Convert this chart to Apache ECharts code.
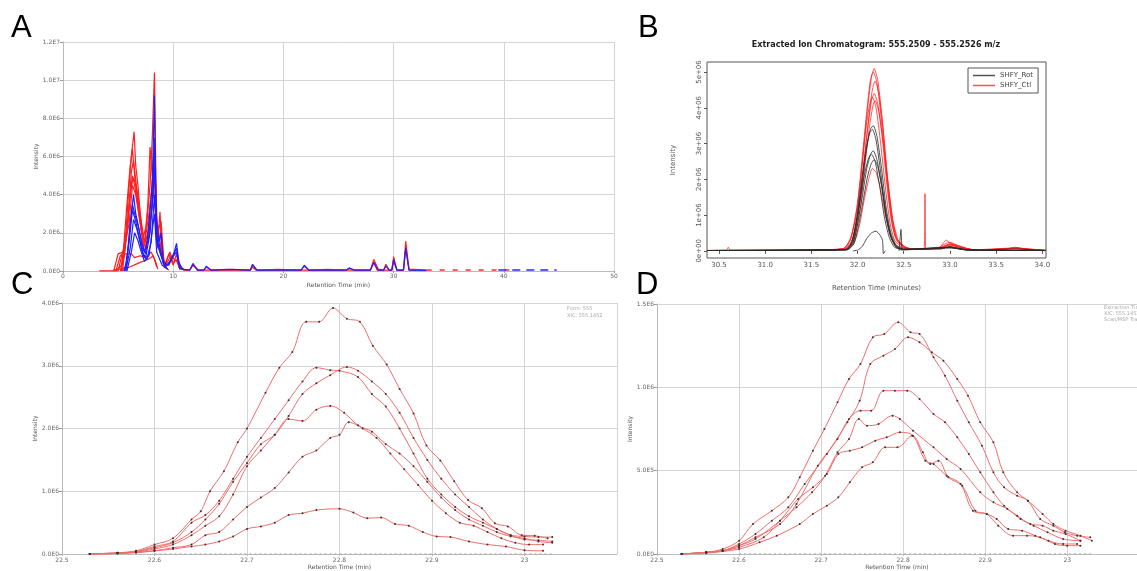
<!DOCTYPE html>
<html><head><meta charset="utf-8">
<script src="https://cdn.jsdelivr.net/npm/echarts@6/dist/echarts.min.js"></script>
<style>html,body{margin:0;padding:0;background:#fff}#c{width:1137px;height:571px}</style>
</head><body><div id="c"></div>
<script>
// ---------- Panel A (Retention time min, intensity in millions) ----------
const aXTicks = [0, 10, 20, 30, 40, 50];
const aRedTraces = [
 [[3.3,0],[4.8,0],[5.3,0.3],[5.7,2.0],[6.0,4.5],[6.2,6.0],[6.45,7.3],[6.6,5.5],[6.8,4.5],[7.0,3.0],[7.3,1.8],[7.6,2.5],[7.9,4.5],[8.1,7.0],[8.3,10.4],[8.45,4.0],[8.6,1.5],[8.8,3.1],[9.0,0.8],[9.3,0.3],[9.6,0.9],[9.8,0.6],[10.0,0.3],[10.3,0.9],[10.5,0.2],[11.0,0.05],[11.5,0.05],[11.8,0.4],[12.2,0.05],[12.8,0.05],[13.0,0.2],[13.5,0.05],[15.5,0.08],[16.5,0.05],[17.0,0.05],[17.2,0.3],[17.6,0.05],[19.5,0.08],[21.6,0.05],[21.9,0.25],[22.3,0.05],[24.0,0.08],[25.7,0.05],[26.0,0.15],[26.4,0.05],[27.9,0.05],[28.2,0.6],[28.6,0.1],[29.1,0.05],[29.3,0.35],[29.6,0.05],[29.85,0.05],[30.0,0.75],[30.3,0.05],[30.9,0.05],[31.1,1.55],[31.4,0.1],[32.0,0.08],[33.0,0.05]],
 [[3.3,0],[5.0,0],[5.5,1.2],[5.8,3.5],[6.1,5.5],[6.3,6.4],[6.5,5.0],[6.8,3.5],[7.1,2.2],[7.4,1.5],[7.7,3.5],[7.9,6.5],[8.1,5.0],[8.3,6.8],[8.5,2.5],[8.7,2.0],[8.9,1.0],[9.2,0.3],[9.7,1.0],[10.0,0.4],[10.3,0.6],[10.6,0.1],[11.5,0.05],[11.8,0.3],[12.3,0.05],[17.0,0.05],[17.2,0.2],[17.5,0.05],[27.9,0.05],[28.2,0.45],[28.5,0.05],[29.8,0.05],[30.0,0.5],[30.3,0.05],[30.9,0.05],[31.1,1.2],[31.4,0.05],[32,0.05]],
 [[4.8,0],[5.2,0.8],[5.6,1.0],[6.0,3.5],[6.3,5.0],[6.5,4.5],[6.9,3.0],[7.3,1.2],[7.7,2.0],[8.0,4.0],[8.3,6.5],[8.5,2.0],[8.9,2.6],[9.2,0.2],[9.8,0.8],[10.3,0.5],[11,0.05]],
 [[4.6,0],[5.0,0.9],[5.5,1.0],[6.0,2.5],[6.3,4.5],[6.6,4.0],[7.0,2.5],[7.4,1.0],[7.7,1.5],[8.0,3.0],[8.3,5.0],[8.5,1.5],[8.9,1.8],[9.2,0.2],[9.6,0.05]],
 [[5.2,0],[5.6,0.9],[6.2,0.9],[6.5,0.7],[7.0,0.8],[7.5,0.7],[8.0,1.0],[8.4,0.5],[8.6,0.1]],
 [[4.6,0.05],[6.0,0.2],[7.0,0.45],[7.7,0.6],[8.2,0.8],[8.5,0.2]],
 [[5.3,0],[5.9,2.5],[6.2,5.2],[6.4,5.8],[6.7,4.2],[7.0,2.8],[7.4,1.4],[7.8,3.0],[8.1,4.5],[8.3,6.0],[8.5,2.2],[8.8,2.4],[9.1,0.4],[9.5,0.1]],
 [[5.4,0],[5.8,2.0],[6.1,4.0],[6.35,4.9],[6.6,4.6],[6.9,3.6],[7.2,2.0],[7.5,1.2],[7.9,2.6],[8.2,4.2],[8.35,3.5],[8.6,1.2],[8.9,1.5],[9.2,0.2]]
];
const aBlueTraces = [
 [[5.5,0],[5.8,0.5],[6.1,2.5],[6.4,4.0],[6.6,3.0],[6.9,2.2],[7.2,1.2],[7.5,0.9],[7.8,2.5],[8.1,4.5],[8.3,9.2],[8.45,3.0],[8.7,1.5],[8.9,2.0],[9.1,0.5],[9.5,0.3],[9.8,0.6],[10.1,1.0],[10.3,1.45],[10.5,0.5],[10.8,0.1],[11.5,0.05],[11.8,0.35],[12.2,0.05],[12.8,0.05],[13.0,0.25],[13.4,0.05],[15.0,0.08],[17.0,0.05],[17.2,0.35],[17.6,0.05],[21.6,0.05],[21.9,0.3],[22.3,0.05],[25.7,0.05],[26.0,0.15],[26.4,0.05],[27.9,0.05],[28.2,0.45],[28.6,0.05],[29.1,0.05],[29.3,0.25],[29.6,0.05],[29.85,0.05],[30.0,0.6],[30.3,0.05],[30.9,0.05],[31.1,1.2],[31.4,0.05],[33.0,0.03]],
 [[5.6,0],[6.0,1.5],[6.3,3.2],[6.6,2.6],[6.9,1.8],[7.2,1.0],[7.5,0.7],[7.9,2.0],[8.15,4.0],[8.3,7.0],[8.5,2.0],[8.8,1.2],[9.1,0.4],[9.6,0.3],[10.0,0.8],[10.3,1.2],[10.6,0.2],[11,0.05]],
 [[5.7,0],[6.1,1.2],[6.4,2.7],[6.7,2.2],[7.0,1.5],[7.3,0.8],[7.6,0.6],[8.0,1.5],[8.3,4.0],[8.5,1.5],[8.9,0.8],[9.3,0.2],[10.3,1.0],[10.6,0.1]],
 [[5.8,0],[6.2,1.0],[6.5,2.0],[6.8,1.6],[7.1,1.0],[7.4,0.5],[7.8,0.8],[8.3,3.0],[8.5,1.0],[9,0.3],[9.5,0.1]],
 [[5.7,0],[6.0,1.8],[6.3,3.5],[6.5,3.0],[6.8,2.4],[7.1,1.6],[7.4,1.0],[7.8,1.8],[8.1,3.5],[8.3,5.5],[8.5,1.8],[8.8,1.0],[9.2,0.3]]
];
const aRedTail = [[33.0,0.05],[40.5,0.05]];
const aBlueTail = [[39.5,0.05],[44.8,0.05]];

// ---------- Panel B (minutes, intensity in millions) ----------
const bXTicks = [30.5, 31.0, 31.5, 32.0, 32.5, 33.0, 33.5, 34.0];
const bYTicks = [0, 1, 2, 3, 4, 5];
const bLegend = ['SHFY_Rot', 'SHFY_Ctl'];
const bCtlTraces = [
 [[30.37,0.01],[30.58,0.02],[30.6,0.1],[30.62,0.02],[31.5,0.02],[31.85,0.06],[31.93,0.35],[32.0,1.2],[32.05,2.4],[32.1,3.8],[32.15,4.85],[32.18,5.1],[32.22,4.75],[32.27,3.6],[32.32,2.1],[32.37,0.95],[32.42,0.35],[32.5,0.12],[32.6,0.05],[32.85,0.06],[32.95,0.2],[33.0,0.24],[33.1,0.13],[33.25,0.03],[33.6,0.05],[33.7,0.1],[33.8,0.05],[34.04,0.01]],
 [[30.37,0.01],[31.5,0.02],[31.85,0.07],[31.93,0.4],[32.0,1.3],[32.05,2.6],[32.1,3.9],[32.14,4.8],[32.17,5.0],[32.21,4.7],[32.26,3.6],[32.31,2.2],[32.36,1.0],[32.41,0.4],[32.5,0.13],[32.6,0.05],[32.88,0.08],[32.96,0.3],[33.0,0.22],[33.1,0.14],[33.25,0.03],[33.6,0.05],[33.72,0.09],[33.85,0.04],[34.04,0.01]],
 [[30.37,0.01],[31.5,0.02],[31.87,0.06],[31.95,0.35],[32.02,1.3],[32.07,2.5],[32.12,3.7],[32.16,4.5],[32.19,4.75],[32.23,4.4],[32.28,3.3],[32.33,1.9],[32.38,0.85],[32.43,0.3],[32.5,0.1],[32.6,0.05],[32.9,0.1],[33.0,0.2],[33.1,0.12],[33.25,0.03],[33.7,0.08],[34.04,0.01]],
 [[30.37,0.01],[31.5,0.02],[31.86,0.06],[31.94,0.3],[32.0,1.0],[32.05,2.0],[32.1,3.2],[32.15,4.2],[32.18,4.4],[32.22,4.1],[32.27,3.1],[32.32,1.8],[32.37,0.8],[32.42,0.3],[32.5,0.1],[32.6,0.04],[32.9,0.09],[33.0,0.18],[33.1,0.1],[33.3,0.02],[33.7,0.07],[34.04,0.01]],
 [[30.37,0.01],[31.84,0.05],[31.92,0.3],[31.98,1.0],[32.04,2.2],[32.09,3.4],[32.13,4.1],[32.16,4.3],[32.2,4.0],[32.25,3.0],[32.3,1.8],[32.35,0.8],[32.4,0.3],[32.48,0.1],[32.6,0.04],[32.9,0.08],[33.0,0.17],[33.1,0.1],[33.3,0.02],[33.7,0.06],[34.04,0.01]],
 [[30.37,0.01],[31.88,0.05],[31.96,0.3],[32.03,1.2],[32.08,2.4],[32.13,3.5],[32.17,4.1],[32.19,4.2],[32.23,3.9],[32.28,3.0],[32.33,1.9],[32.38,0.9],[32.44,0.3],[32.52,0.1],[32.6,0.04],[32.72,0.05],[32.73,1.6],[32.74,0.05],[32.9,0.08],[33.0,0.16],[33.1,0.09],[33.3,0.02],[33.7,0.06],[34.04,0.01]],
 [[30.37,0.01],[31.88,0.04],[31.96,0.2],[32.02,0.7],[32.07,1.4],[32.12,2.0],[32.16,2.3],[32.2,2.2],[32.25,1.7],[32.3,1.0],[32.35,0.5],[32.4,0.2],[32.5,0.06],[32.9,0.06],[33.0,0.12],[33.1,0.07],[33.3,0.02],[34.04,0.01]]
];
const bRotTraces = [
 [[30.37,0.01],[31.88,0.03],[31.95,0.25],[32.0,0.9],[32.05,1.9],[32.1,2.9],[32.14,3.4],[32.17,3.5],[32.21,3.2],[32.26,2.3],[32.31,1.2],[32.36,0.5],[32.42,0.15],[32.5,0.05],[32.9,0.05],[33.0,0.12],[33.1,0.06],[33.3,0.02],[33.7,0.05],[34.04,0.01]],
 [[30.37,0.01],[31.87,0.03],[31.94,0.25],[31.99,0.9],[32.04,1.9],[32.09,2.8],[32.13,3.3],[32.16,3.4],[32.2,3.1],[32.25,2.2],[32.3,1.1],[32.35,0.45],[32.41,0.12],[32.5,0.04],[33.0,0.1],[33.2,0.02],[34.04,0.01]],
 [[30.37,0.01],[31.88,0.03],[31.95,0.2],[32.0,0.75],[32.05,1.5],[32.1,2.3],[32.14,2.7],[32.17,2.8],[32.21,2.55],[32.26,1.8],[32.31,0.95],[32.36,0.4],[32.42,0.1],[32.5,0.04],[33.0,0.1],[33.2,0.02],[34.04,0.01]],
 [[30.37,0.01],[31.86,0.03],[31.93,0.2],[31.98,0.7],[32.03,1.45],[32.08,2.2],[32.12,2.6],[32.15,2.7],[32.19,2.5],[32.24,1.8],[32.29,0.95],[32.34,0.4],[32.4,0.1],[32.5,0.03],[33.0,0.09],[33.2,0.02],[34.04,0.01]],
 [[30.37,0.01],[31.89,0.03],[31.96,0.2],[32.01,0.7],[32.06,1.4],[32.11,2.1],[32.15,2.45],[32.18,2.55],[32.22,2.35],[32.27,1.7],[32.32,0.9],[32.37,0.35],[32.43,0.1],[32.5,0.03],[33.0,0.08],[33.2,0.02],[34.04,0.01]],
 [[31.95,0.0],[32.0,0.02],[32.05,0.12],[32.1,0.35],[32.15,0.5],[32.2,0.55],[32.24,0.45],[32.27,0.3],[32.28,-0.08],[32.3,0.0]],
 [[32.45,0.0],[32.47,0.6],[32.48,0.0]]
];

// ---------- Panel C (minutes, intensity in millions) ----------
const cTraces = [
 [[22.53,0],[22.56,0.02],[22.58,0.05],[22.6,0.15],[22.62,0.25],[22.64,0.55],[22.65,0.68],[22.66,1.0],[22.675,1.32],[22.69,1.78],[22.7,2.0],[22.72,2.57],[22.735,2.97],[22.749,3.22],[22.764,3.7],[22.778,3.7],[22.793,3.92],[22.808,3.75],[22.822,3.7],[22.836,3.32],[22.851,3.02],[22.865,2.63],[22.88,2.24],[22.894,1.73],[22.909,1.49],[22.924,1.16],[22.939,0.86],[22.954,0.73],[22.968,0.49],[22.982,0.44],[22.997,0.3],[23.011,0.29],[23.025,0.25]],
 [[22.53,0],[22.56,0.02],[22.58,0.04],[22.6,0.12],[22.62,0.2],[22.64,0.5],[22.655,0.62],[22.67,0.85],[22.685,1.2],[22.7,1.55],[22.715,1.85],[22.73,2.15],[22.745,2.45],[22.76,2.75],[22.775,2.97],[22.79,2.93],[22.8,2.92],[22.82,2.82],[22.835,2.55],[22.85,2.35],[22.865,2.0],[22.88,1.6],[22.895,1.2],[22.91,0.95],[22.925,0.75],[22.94,0.6],[22.955,0.5],[22.97,0.4],[22.985,0.3],[23.0,0.23],[23.015,0.22],[23.03,0.2]],
 [[22.53,0],[22.56,0.01],[22.58,0.04],[22.6,0.1],[22.62,0.18],[22.64,0.35],[22.655,0.55],[22.67,0.8],[22.685,1.15],[22.7,1.45],[22.715,1.75],[22.73,1.9],[22.745,2.2],[22.76,2.55],[22.775,2.72],[22.79,2.85],[22.808,2.98],[22.82,2.92],[22.835,2.75],[22.85,2.55],[22.865,2.25],[22.88,1.85],[22.895,1.5],[22.91,1.2],[22.925,0.95],[22.94,0.75],[22.955,0.55],[22.97,0.4],[22.985,0.3],[23.0,0.28],[23.015,0.27],[23.03,0.27]],
 [[22.53,0],[22.56,0.01],[22.58,0.03],[22.6,0.08],[22.62,0.15],[22.64,0.3],[22.655,0.45],[22.67,0.6],[22.685,0.95],[22.7,1.4],[22.715,1.65],[22.73,1.9],[22.745,2.15],[22.76,2.12],[22.775,2.3],[22.79,2.36],[22.805,2.25],[22.82,2.05],[22.835,1.95],[22.85,1.75],[22.865,1.6],[22.88,1.4],[22.895,1.15],[22.91,0.9],[22.925,0.7],[22.94,0.55],[22.955,0.45],[22.97,0.35],[22.985,0.28],[23.0,0.25],[23.015,0.2],[23.03,0.18]],
 [[22.53,0],[22.56,0.01],[22.58,0.02],[22.6,0.05],[22.62,0.1],[22.64,0.15],[22.655,0.3],[22.67,0.35],[22.685,0.55],[22.7,0.75],[22.715,0.9],[22.73,1.05],[22.745,1.3],[22.76,1.55],[22.775,1.65],[22.79,1.85],[22.8,1.9],[22.81,2.1],[22.825,2.0],[22.84,1.85],[22.855,1.6],[22.87,1.35],[22.885,1.1],[22.9,0.85],[22.915,0.65],[22.93,0.5],[22.945,0.45],[22.96,0.35],[22.975,0.25],[22.99,0.18],[23.005,0.15],[23.02,0.15]],
 [[22.53,0],[22.56,0.01],[22.6,0.05],[22.62,0.08],[22.64,0.12],[22.655,0.15],[22.67,0.2],[22.685,0.28],[22.7,0.4],[22.715,0.44],[22.73,0.5],[22.745,0.62],[22.76,0.65],[22.775,0.7],[22.8,0.72],[22.815,0.66],[22.83,0.57],[22.845,0.58],[22.86,0.48],[22.875,0.45],[22.89,0.35],[22.905,0.28],[22.92,0.27],[22.94,0.2],[22.96,0.15],[22.98,0.12],[23.0,0.06],[23.02,0.05]]
];
const cBaseline = [[22.6,0],[23.03,0]];

// ---------- Panel D (minutes, intensity in millions) ----------
const dTraces = [
 [[22.53,0],[22.56,0.01],[22.58,0.03],[22.6,0.08],[22.617,0.18],[22.64,0.26],[22.66,0.34],[22.674,0.46],[22.69,0.62],[22.704,0.75],[22.72,0.91],[22.734,1.05],[22.748,1.14],[22.763,1.3],[22.777,1.32],[22.794,1.39],[22.809,1.33],[22.82,1.32],[22.837,1.18],[22.851,1.07],[22.866,0.92],[22.88,0.79],[22.896,0.65],[22.91,0.49],[22.923,0.4],[22.939,0.35],[22.952,0.32],[22.967,0.21],[22.983,0.17],[22.997,0.13],[23.012,0.11],[23.028,0.1]],
 [[22.53,0],[22.56,0.01],[22.58,0.02],[22.6,0.06],[22.62,0.12],[22.64,0.2],[22.66,0.28],[22.68,0.42],[22.707,0.6],[22.732,0.79],[22.747,0.92],[22.76,1.14],[22.776,1.19],[22.79,1.23],[22.806,1.3],[22.82,1.27],[22.835,1.21],[22.849,1.16],[22.866,1.05],[22.879,0.95],[22.894,0.79],[22.91,0.67],[22.922,0.49],[22.939,0.37],[22.952,0.32],[22.97,0.24],[22.983,0.18],[22.998,0.14],[23.016,0.11],[23.03,0.08]],
 [[22.53,0],[22.56,0.01],[22.58,0.02],[22.6,0.05],[22.62,0.1],[22.65,0.18],[22.67,0.3],[22.696,0.53],[22.72,0.69],[22.734,0.81],[22.748,0.86],[22.761,0.86],[22.776,0.98],[22.79,0.98],[22.805,0.98],[22.82,0.93],[22.837,0.84],[22.851,0.79],[22.866,0.7],[22.88,0.6],[22.894,0.49],[22.91,0.37],[22.923,0.29],[22.939,0.23],[22.955,0.18],[22.97,0.17],[22.983,0.14],[22.998,0.12],[23.016,0.08]],
 [[22.53,0],[22.56,0.01],[22.58,0.02],[22.6,0.05],[22.62,0.09],[22.65,0.2],[22.67,0.28],[22.689,0.37],[22.705,0.47],[22.72,0.61],[22.734,0.69],[22.746,0.81],[22.756,0.77],[22.77,0.78],[22.787,0.83],[22.796,0.81],[22.812,0.74],[22.837,0.64],[22.853,0.57],[22.87,0.51],[22.894,0.37],[22.91,0.31],[22.927,0.27],[22.943,0.21],[22.959,0.17],[22.976,0.13],[22.995,0.09],[23.016,0.08]],
 [[22.53,0],[22.56,0.01],[22.58,0.02],[22.6,0.04],[22.63,0.1],[22.65,0.2],[22.672,0.33],[22.69,0.4],[22.707,0.48],[22.721,0.6],[22.735,0.62],[22.75,0.64],[22.766,0.68],[22.78,0.7],[22.796,0.73],[22.812,0.71],[22.827,0.56],[22.837,0.54],[22.853,0.47],[22.87,0.42],[22.885,0.26],[22.902,0.24],[22.914,0.21],[22.928,0.15],[22.945,0.14],[22.961,0.11],[22.977,0.08],[22.995,0.06],[23.012,0.06]],
 [[22.53,0],[22.56,0.005],[22.6,0.03],[22.625,0.07],[22.646,0.11],[22.674,0.18],[22.69,0.24],[22.707,0.29],[22.721,0.34],[22.735,0.43],[22.75,0.52],[22.763,0.55],[22.778,0.64],[22.793,0.64],[22.811,0.71],[22.824,0.61],[22.833,0.54],[22.843,0.56],[22.855,0.46],[22.872,0.41],[22.888,0.26],[22.902,0.24],[22.916,0.17],[22.934,0.11],[22.951,0.11],[22.967,0.1],[22.985,0.06],[23.0,0.05],[23.016,0.05]]
];
const dBaseline = [[22.6,0],[23.03,0]];

// ---------- helpers ----------
const FONT = 'DejaVu Sans';
function eLabel(v) {
  if (v === 0) return '0.0E0';
  if (v >= 10) return (v / 10).toFixed(1) + 'E7';
  if (v < 1) return (v * 10).toFixed(1) + 'E5';
  return v.toFixed(1) + 'E6';
}
function minLabel(v) { return String(Math.round(v * 10) / 10); }
function lineS(name, idx, data, color, width, extra) {
  return Object.assign({
    type: 'line', name: name, xAxisIndex: idx, yAxisIndex: idx, data: data,
    symbol: 'none', animation: false, silent: true,
    lineStyle: { color: color, width: width }, itemStyle: { color: color }
  }, extra || {});
}
function gAxisX(idx, min, max, name, fmt, nameGap) {
  return {
    type: 'value', gridIndex: idx, min: min, max: max, interval: 0.1,
    name: name, nameLocation: 'middle', nameGap: nameGap,
    nameTextStyle: { fontSize: 6, color: '#555', fontFamily: FONT },
    axisLine: { lineStyle: { color: '#bbb' } }, axisTick: { show: true, length: 2, lineStyle: { color: '#bbb' } },
    axisLabel: { fontSize: 6, color: '#666', fontFamily: FONT, margin: 3, formatter: fmt, showMaxLabel: false },
    splitLine: { show: true, lineStyle: { color: '#d4d4d4' } }
  };
}
function gAxisY(idx, max, interval, nameGap) {
  return {
    type: 'value', gridIndex: idx, min: 0, max: max, interval: interval,
    name: 'Intensity', nameLocation: 'middle', nameGap: nameGap,
    nameTextStyle: { fontSize: 6, color: '#555', fontFamily: FONT },
    axisLine: { show: true, lineStyle: { color: '#bbb' } }, axisTick: { show: true, length: 3, lineStyle: { color: '#999' } },
    axisLabel: { fontSize: 6, color: '#666', fontFamily: FONT, margin: 3, formatter: eLabel },
    splitLine: { show: true, lineStyle: { color: '#d4d4d4' } }
  };
}

const series = [];
aRedTraces.forEach((d, i) => series.push(lineS('A red ' + i, 0, d, '#ff1e1e', 1.2)));
aBlueTraces.forEach((d, i) => series.push(lineS('A blue ' + i, 0, d, '#1e1eff', 1.2)));
series.push(lineS('A red tail', 0, aRedTail, '#ff2a2a', 1.6, { lineStyle: { color: '#ff2a2a', width: 1.6, type: [5, 8] } }));
series.push(lineS('A blue tail', 0, aBlueTail, '#2a2aff', 1.6, { lineStyle: { color: '#2a2aff', width: 1.6, type: [8, 6] } }));

bCtlTraces.forEach((d) => series.push(lineS(bLegend[1], 1, d, 'rgba(255,25,25,0.75)', 1, { smooth: 0.2 })));
bRotTraces.forEach((d) => series.push(lineS(bLegend[0], 1, d, 'rgba(40,40,40,0.8)', 1, { smooth: 0.2 })));

const dotStyle = { color: '#333', borderWidth: 0 };
cTraces.forEach((d, i) => series.push(lineS('C ' + i, 2, d, '#f26c6c', 1, { smooth: 0.35, symbol: 'circle', symbolSize: 2, showSymbol: true, showAllSymbol: true, itemStyle: dotStyle })));
series.push(lineS('C base', 2, cBaseline, '#888', 1, { lineStyle: { color: '#999', width: 1, type: [2, 3] } }));
dTraces.forEach((d, i) => series.push(lineS('D ' + i, 3, d, '#f26c6c', 1, { smooth: 0.35, symbol: 'circle', symbolSize: 2, showSymbol: true, showAllSymbol: true, itemStyle: dotStyle })));
series.push(lineS('D base', 3, dBaseline, '#888', 1, { lineStyle: { color: '#999', width: 1, type: [2, 3] } }));

const chart = echarts.init(document.getElementById('c'), null, { renderer: 'canvas' });
chart.setOption({
  animation: false,
  backgroundColor: '#fff',
  grid: [
    { left: 63, top: 42, width: 551, height: 229 },
    { left: 707, top: 62, width: 339, height: 196, show: true, borderColor: '#555', borderWidth: 1, backgroundColor: 'transparent' },
    { left: 62, top: 303, width: 555, height: 253 },
    { left: 657, top: 304, width: 480, height: 252 }
  ],
  legend: {
    data: bLegend, left: 968, top: 68, orient: 'vertical', itemGap: 3,
    padding: [4, 5, 4, 5], itemWidth: 22, itemHeight: 1.5, icon: 'rect',
    borderColor: '#555', borderWidth: 1, backgroundColor: '#fff',
    textStyle: { fontSize: 7, color: '#444', fontFamily: FONT }, selectedMode: false
  },
  xAxis: [
    { type: 'value', gridIndex: 0, min: 0, max: 50, interval: 10,
      name: 'Retention Time (min)', nameLocation: 'middle', nameGap: 11,
      nameTextStyle: { fontSize: 6, color: '#555', fontFamily: FONT },
      axisLine: { lineStyle: { color: '#bbb' } }, axisTick: { show: true, length: 2, lineStyle: { color: '#999' } },
      axisLabel: { fontSize: 6, color: '#666', fontFamily: FONT, margin: 2, customValues: aXTicks },
      splitLine: { show: true, lineStyle: { color: '#d4d4d4' } } },
    { type: 'value', gridIndex: 1, min: 30.37, max: 34.04,
      name: 'Retention Time (minutes)', nameLocation: 'middle', nameGap: 27,
      nameTextStyle: { fontSize: 7, color: '#555', fontFamily: FONT },
      axisLine: { show: false }, axisTick: { show: true, inside: false, length: 3, lineStyle: { color: '#555' }, customValues: bXTicks },
      axisLabel: { fontSize: 7, color: '#555', fontFamily: FONT, margin: 4, customValues: bXTicks, formatter: v => v.toFixed(1) },
      splitLine: { show: false } },
    gAxisX(2, 22.5, 23.1, 'Retention Time (min)', minLabel, 10),
    gAxisX(3, 22.5, 23.085, 'Retention Time (min)', minLabel, 10)
  ],
  yAxis: [
    { type: 'value', gridIndex: 0, min: 0, max: 12, interval: 2,
      name: 'Intensity', nameLocation: 'middle', nameGap: 20,
      nameTextStyle: { fontSize: 6, color: '#555', fontFamily: FONT },
      axisLine: { show: true, lineStyle: { color: '#bbb' } }, axisTick: { show: true, length: 3, lineStyle: { color: '#999' } },
      axisLabel: { fontSize: 6, color: '#666', fontFamily: FONT, margin: 3, formatter: eLabel },
      splitLine: { show: true, lineStyle: { color: '#d4d4d4' } } },
    { type: 'value', gridIndex: 1, min: -0.2, max: 5.28,
      name: 'Intensity', nameLocation: 'middle', nameGap: 30,
      nameTextStyle: { fontSize: 7, color: '#555', fontFamily: FONT },
      axisLine: { show: false }, axisTick: { show: true, length: 3, lineStyle: { color: '#555' }, customValues: bYTicks },
      axisLabel: { fontSize: 7, color: '#555', fontFamily: FONT, margin: 4, rotate: 90, customValues: bYTicks,
        formatter: v => v === 0 ? '0e+00' : Math.round(v) + 'e+06' },
      splitLine: { show: false } },
    gAxisY(2, 4, 1, 19),
    gAxisY(3, 1.5, 0.5, 19)
  ],
  graphic: [
    { type: 'text', left: 11, top: 13, style: { text: 'A', font: '31px "Liberation Sans"', fill: '#000' } },
    { type: 'text', left: 638, top: 13, style: { text: 'B', font: '31px "Liberation Sans"', fill: '#000' } },
    { type: 'text', left: 11, top: 270, style: { text: 'C', font: '31px "Liberation Sans"', fill: '#000' } },
    { type: 'text', left: 636, top: 270, style: { text: 'D', font: '31px "Liberation Sans"', fill: '#000' } },
    { type: 'text', x: 876, y: 45, style: { text: 'Extracted Ion Chromatogram: 555.2509 - 555.2526 m/z', font: 'bold 8px "DejaVu Sans"', fill: '#222', align: 'center', verticalAlign: 'middle' } },
    { type: 'text', x: 567, y: 305, style: { text: 'Form: 555\nXIC: 555.1452', font: '5px "DejaVu Sans"', fill: '#aaa', lineHeight: 7 } },
    { type: 'text', x: 1104, y: 305, style: { text: 'Extraction Time\nXIC: 555.1452\nScan/MSP Transit', font: '5px "DejaVu Sans"', fill: '#aaa', lineHeight: 6 } }
  ],
  series: series
});
</script>
</body></html>
